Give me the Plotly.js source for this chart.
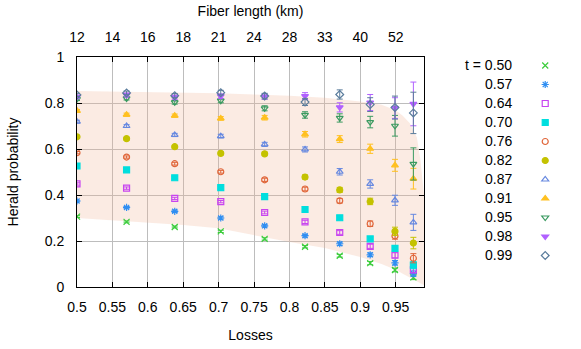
<!DOCTYPE html>
<html>
<head>
<meta charset="utf-8">
<script src="https://cdn.plot.ly/plotly-3.0.1.min.js"></script>
<style>html,body{margin:0;padding:0;background:#fff;}#chart{width:581px;height:349px;}</style>
</head>
<body>
<div id="chart"></div>
<script>
// ---- data ----
const lossX = [0.5, 0.57, 0.638, 0.703, 0.765, 0.822, 0.871, 0.914, 0.949, 0.975];

const tLabels = ['t = 0.50', '0.57', '0.64', '0.70', '0.76', '0.82', '0.87', '0.91', '0.95', '0.98', '0.99'];

const t050 = [0.306, 0.283, 0.261, 0.242, 0.209, 0.175, 0.136, 0.104, 0.074, 0.042];
const t057 = [0.374, 0.346, 0.329, 0.300, 0.266, 0.223, 0.188, 0.140, 0.105, 0.058];
const t064 = [0.448, 0.430, 0.385, 0.371, 0.324, 0.283, 0.237, 0.177, 0.138, 0.075];
const t070 = [0.526, 0.509, 0.475, 0.432, 0.393, 0.337, 0.301, 0.209, 0.168, 0.095];
const t076 = [0.584, 0.565, 0.536, 0.501, 0.466, 0.426, 0.375, 0.275, 0.222, 0.125];
const t082 = [0.653, 0.645, 0.610, 0.581, 0.579, 0.478, 0.422, 0.372, 0.242, 0.191];
const t087 = [0.719, 0.700, 0.661, 0.656, 0.620, 0.598, 0.501, 0.448, 0.377, 0.281];
const t091 = [0.766, 0.749, 0.745, 0.733, 0.736, 0.664, 0.643, 0.601, 0.529, 0.471];
const t095 = [0.817, 0.820, 0.803, 0.810, 0.777, 0.748, 0.735, 0.717, 0.701, 0.535];
const t098 = [0.827, 0.835, 0.825, 0.830, 0.828, 0.830, 0.781, 0.802, 0.778, 0.796];
const t099 = [0.835, 0.844, 0.832, 0.845, 0.830, 0.804, 0.837, 0.793, 0.780, 0.757];

const e050 = [0.004, 0.004, 0.004, 0.005, 0.005, 0.005, 0.006, 0.007, 0.008, 0.010];
const e057 = [0.004, 0.004, 0.005, 0.005, 0.005, 0.006, 0.007, 0.008, 0.010, 0.012];
const e064 = [0.005, 0.005, 0.005, 0.005, 0.006, 0.007, 0.008, 0.009, 0.011, 0.014];
const e070 = [0.005, 0.005, 0.005, 0.006, 0.006, 0.007, 0.009, 0.010, 0.012, 0.016];
const e076 = [0.005, 0.005, 0.006, 0.006, 0.007, 0.008, 0.010, 0.012, 0.014, 0.020];
const e082 = [0.005, 0.006, 0.006, 0.007, 0.008, 0.009, 0.011, 0.014, 0.018, 0.025];
const e087 = [0.006, 0.006, 0.007, 0.008, 0.009, 0.011, 0.014, 0.018, 0.022, 0.035];
const e091 = [0.006, 0.007, 0.007, 0.008, 0.010, 0.012, 0.015, 0.020, 0.026, 0.045];
const e095 = [0.006, 0.007, 0.008, 0.009, 0.011, 0.014, 0.018, 0.025, 0.045, 0.070];
const e098 = [0.007, 0.008, 0.009, 0.010, 0.012, 0.015, 0.020, 0.035, 0.045, 0.095];
const e099 = [0.007, 0.008, 0.009, 0.010, 0.012, 0.015, 0.020, 0.030, 0.050, 0.090];

// shaded band
const bandX     = [0.5,   0.55,  0.6,   0.65,  0.7,   0.75,  0.8,   0.85,  0.9,   0.93,  0.95,  0.96,  0.97,  0.98,  0.985, 0.99];
const bandUpper = [0.852, 0.850, 0.848, 0.845, 0.842, 0.837, 0.832, 0.823, 0.806, 0.792, 0.768, 0.745, 0.712, 0.650, 0.550, 0.400];
const bandLower = [0.300, 0.290, 0.280, 0.270, 0.255, 0.226, 0.196, 0.170, 0.130, 0.100, 0.075, 0.058, 0.042, 0.025, 0.016, 0.008];

// axis ticks
const lossTicks = [0.5, 0.55, 0.6, 0.65, 0.7, 0.75, 0.8, 0.85, 0.9, 0.95];
const lossTickText = ['0.5', '0.55', '0.6', '0.65', '0.7', '0.75', '0.8', '0.85', '0.9', '0.95'];
const fiberTickText = ['12', '14', '16', '18', '21', '24', '28', '33', '40', '52'];
const probTicks = [0, 0.2, 0.4, 0.6, 0.8, 1];
const probTickText = ['0', '0.2', '0.4', '0.6', '0.8', '1'];

// ---- styles ----
const seriesY = [t050, t057, t064, t070, t076, t082, t087, t091, t095, t098, t099];
const seriesE = [e050, e057, e064, e070, e076, e082, e087, e091, e095, e098, e099];
const colors = ['#3ccc3c', '#2f8ef2', '#c844f0', '#00dede', '#e0663a', '#c4c200', '#6688e0', '#ffc020', '#3a9a60', '#b060ff', '#5a7c9c'];
const symbols = ['x-thin-open', 'asterisk-open', 'square-open', 'square', 'circle-open', 'circle',
                 'triangle-up-open', 'triangle-up', 'triangle-down-open', 'triangle-down', 'diamond-open'];
const sizes = [6, 6, 6, 6, 6, 6, 6, 6, 6, 6, 6];

const traces = [];
traces.push({
  x: bandX.concat(bandX.slice().reverse()),
  y: bandUpper.concat(bandLower.slice().reverse()),
  type: 'scatter', mode: 'lines', fill: 'toself',
  fillcolor: 'rgba(238,178,148,0.26)', line: {width: 0},
  hoverinfo: 'skip', showlegend: false
});
seriesY.forEach((ys, i) => {
  traces.push({
    x: lossX, y: ys, type: 'scatter', mode: 'markers', name: ' ',
    marker: {symbol: symbols[i], size: sizes[i], color: colors[i], line: {color: colors[i], width: 1.2}},
    error_y: {type: 'data', array: seriesE[i], visible: true, color: colors[i], thickness: 1, width: 3}
  });
});
// invisible trace to create the top axis
traces.push({x: [lossTicks[0]], y: [null], xaxis: 'x2', type: 'scatter', mode: 'markers', showlegend: false, hoverinfo: 'skip'});

const font = {family: 'Liberation Sans, Arial, sans-serif', size: 14, color: '#000'};
const legendTop = 65;   // px center of first legend row
const legendStep = 19;
const plotTop = 57, plotBottom = 287, plotLeft = 77, plotRight = 424;

const annotations = tLabels.map((lab, i) => ({
  text: lab, xref: 'paper', yref: 'paper',
  x: (514 - plotLeft) / (plotRight - plotLeft),
  y: (plotBottom - (legendTop + legendStep * i)) / (plotBottom - plotTop),
  xanchor: 'right', yanchor: 'middle', showarrow: false, font: font
}));

const layout = {
  width: 581, height: 349,
  margin: {l: plotLeft, r: 581 - plotRight, t: plotTop, b: 349 - plotBottom, pad: 0},
  paper_bgcolor: '#fff', plot_bgcolor: '#fff',
  font: font,
  showlegend: true,
  legend: {xref: 'container', yref: 'container', x: 0.904, y: 1 - 51 / 349, xanchor: 'left', yanchor: 'top',
           maxheight: 320,
           font: {family: font.family, size: 11}, bgcolor: 'rgba(0,0,0,0)', borderwidth: 0, itemwidth: 30},
  xaxis: {
    range: [0.5, 0.99], tickvals: lossTicks, ticktext: lossTickText,
    ticks: 'inside', ticklen: 5, tickcolor: '#000', showline: true, linecolor: '#000', linewidth: 1,
    mirror: false, showgrid: true, gridcolor: '#bdbdbd', gridwidth: 1, zeroline: false,
    ticklabelstandoff: 7,
    title: {text: 'Losses', font: font, standoff: 16}
  },
  xaxis2: {
    overlaying: 'x', side: 'top', range: [0.5, 0.99], tickvals: lossTicks, ticktext: fiberTickText,
    ticks: 'inside', ticklen: 5, tickcolor: '#000', showline: true, linecolor: '#000', linewidth: 1,
    showgrid: false, zeroline: false, ticklabelstandoff: 8,
    title: {text: 'Fiber length (km)', font: font, standoff: 9}
  },
  yaxis: {
    range: [0, 1], tickvals: probTicks, ticktext: probTickText,
    ticks: 'inside', ticklen: 5, tickcolor: '#000', showline: true, linecolor: '#000', linewidth: 1,
    mirror: 'ticks', showgrid: true, gridcolor: '#bdbdbd', gridwidth: 1, zeroline: false,
    ticklabelstandoff: 9,
    title: {text: 'Herald probability', font: font, standoff: 22}
  },
  annotations: annotations
};

Plotly.newPlot('chart', traces, layout, {displayModeBar: false, staticPlot: true});
</script>
</body>
</html>
